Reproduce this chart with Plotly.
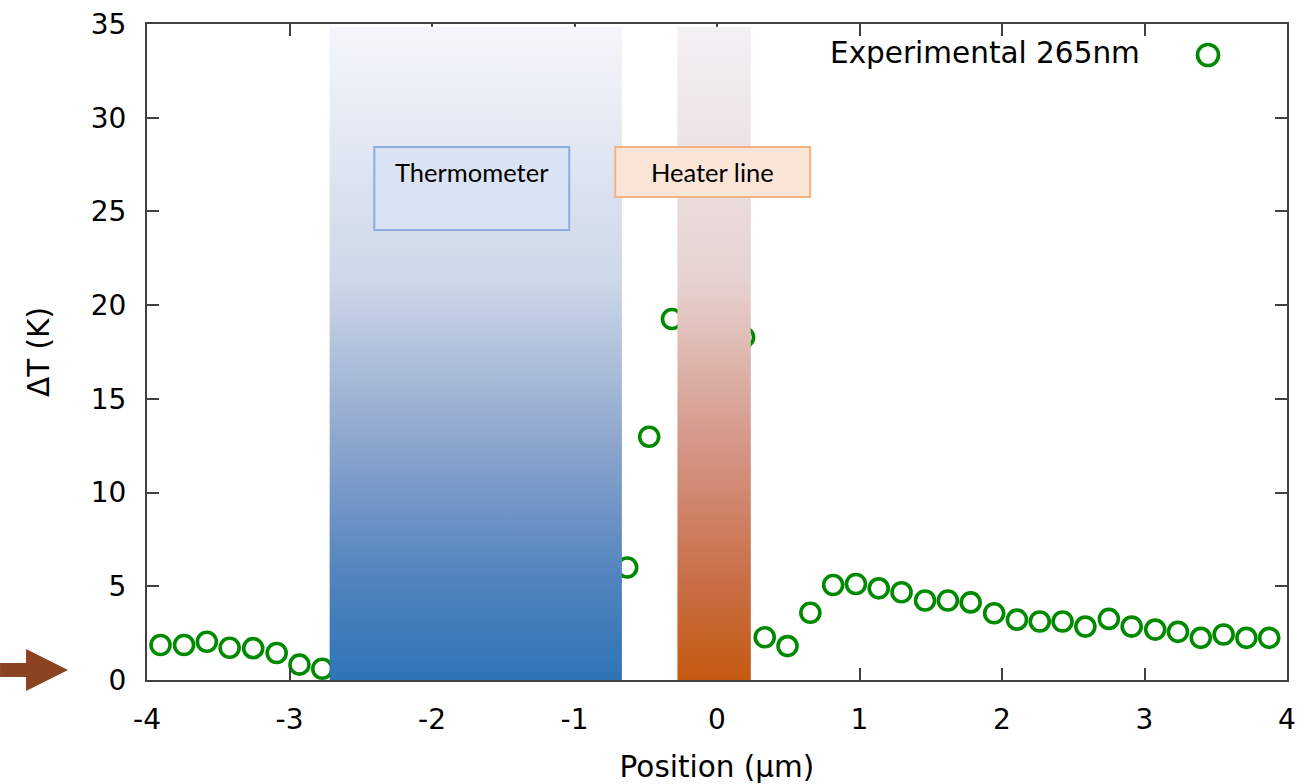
import base64
import plotly.graph_objects as go

# ---- data ----
position_um = [-3.905, -3.74, -3.58, -3.42, -3.255, -3.09, -2.93, -2.77,
               -0.63, -0.476, -0.316, 0.19,
               0.335, 0.495, 0.655, 0.815, 0.975, 1.135, 1.295, 1.46, 1.62, 1.78,
               1.945, 2.105, 2.265, 2.425, 2.585, 2.75, 2.91, 3.075, 3.235, 3.395,
               3.555, 3.715, 3.875]
delta_T_K = [1.87, 1.87, 2.04, 1.72, 1.70, 1.44, 0.82, 0.60,
             6.0, 12.98, 19.26, 18.29,
             2.28, 1.81, 3.59, 5.07, 5.12, 4.89, 4.68, 4.24, 4.24, 4.14,
             3.56, 3.22, 3.12, 3.12, 2.85, 3.26, 2.85, 2.69, 2.57, 2.25,
             2.43, 2.25, 2.25]
series_name = "Experimental 265nm"
thermometer_span = [-2.72, -0.667]
heater_span = [-0.279, 0.238]
x_ticks = [-4, -3, -2, -1, 0, 1, 2, 3, 4]
x_tick_labels = ["-4", "-3", "-2", "-1", "0", "1", "2", "3", "4"]
y_ticks = [0, 5, 10, 15, 20, 25, 30, 35]
y_tick_labels = ["0", "5", "10", "15", "20", "25", "30", "35"]

W, H = 1316, 784
ML, MR, MT, MB = 147, 29, 24, 104
PW, PH = W - ML - MR, H - MT - MB
GREEN = "#008a00"
FONT = "DejaVu Sans"


def px_to_paper(px, py):
    return (px - ML) / PW, (H - MB - py) / PH


def grad_svg(stops):
    st = "".join(f'<stop offset="{o}" stop-color="{c}"/>' for o, c in stops)
    svg = ('<svg xmlns="http://www.w3.org/2000/svg" width="100" height="100" '
           'viewBox="0 0 100 100" preserveAspectRatio="none"><defs>'
           '<linearGradient id="g" x1="0" y1="0" x2="0" y2="1">' + st +
           '</linearGradient></defs><rect width="100" height="100" fill="url(#g)"/></svg>')
    return "data:image/svg+xml;base64," + base64.b64encode(svg.encode()).decode()


fig = go.Figure()
fig.add_trace(go.Scatter(
    x=position_um, y=delta_T_K, mode="markers", name=series_name,
    marker=dict(symbol="circle-open", size=19, color=GREEN,
                line=dict(width=3.6, color=GREEN)),
    showlegend=False, cliponaxis=False))

band_top = 34.86
therm_stops = [(0, "#f4f6fb"), (0.39, "#cdd7e8"), (0.64, "#8ca5cd"),
               (0.85, "#5082be"), (1, "#2e75b6")]
heater_stops = [(0, "#f3f0f4"), (0.39, "#e6d2d0"), (0.64, "#d59687"),
                (0.85, "#c86e46"), (1, "#c55a11")]
images = [
    dict(source=grad_svg(therm_stops), xref="x", yref="y",
         x=thermometer_span[0], y=band_top,
         sizex=thermometer_span[1] - thermometer_span[0], sizey=band_top,
         xanchor="left", yanchor="top", sizing="stretch", layer="above"),
    dict(source=grad_svg(heater_stops), xref="x", yref="y",
         x=heater_span[0], y=band_top,
         sizex=heater_span[1] - heater_span[0], sizey=band_top,
         xanchor="left", yanchor="top", sizing="stretch", layer="above"),
]

shapes = [
    dict(type="rect", xref="x", yref="y", x0=-2.405, x1=-1.037, y0=24.01, y1=28.44,
         fillcolor="#dae3f3", line=dict(color="#8faadc", width=2), layer="above"),
    dict(type="rect", xref="x", yref="y", x0=-0.714, x1=0.654, y0=25.77, y1=28.44,
         fillcolor="#fbe5d6", line=dict(color="#f4b183", width=2), layer="above"),
]

# arrow at the left of the zero line
arrow_px = [(0, 663), (26, 663), (26, 649), (68, 670), (26, 691), (26, 677), (0, 677)]
pts = [px_to_paper(*p) for p in arrow_px]
path = "M " + " L ".join(f"{x:.4f},{y:.4f}" for x, y in pts) + " Z"
shapes.append(dict(type="path", xref="paper", yref="paper", path=path,
                   fillcolor="#8b4220", line=dict(width=0), layer="above"))

# legend marker (symbol to the right of the label, as in the reference)
lx, ly = px_to_paper(1208, 55)
shapes.append(dict(type="circle", xref="paper", yref="paper",
                   xsizemode="pixel", ysizemode="pixel", xanchor=lx, yanchor=ly,
                   x0=-10.5, x1=10.5, y0=-10.5, y1=10.5,
                   line=dict(color=GREEN, width=3.6), layer="above"))

tx, ty = px_to_paper(1142, 53)
annotations = [
    dict(text=series_name, xref="paper", yref="paper", x=tx, y=ty,
         xanchor="right", yanchor="middle", showarrow=False,
         font=dict(family=FONT, size=29.5, color="black")),
    dict(text="Thermometer", xref="x", yref="y", x=-1.72, y=27.1,
         xanchor="center", yanchor="middle", showarrow=False,
         font=dict(family="Lato", size=25.5, color="black")),
    dict(text="Heater line", xref="x", yref="y", x=-0.03, y=27.1,
         xanchor="center", yanchor="middle", showarrow=False,
         font=dict(family="Lato", size=25.5, color="black")),
]

axis_common = dict(showline=True, linecolor="#404040", linewidth=2, mirror="allticks",
                   ticks="inside", ticklen=12, tickwidth=1.5, tickcolor="#404040",
                   showgrid=False, zeroline=False, automargin=False,
                   tickfont=dict(family=FONT, size=28, color="black"))

fig.update_layout(
    width=W, height=H,
    margin=dict(l=ML, r=MR, t=MT, b=MB),
    paper_bgcolor="white", plot_bgcolor="white",
    xaxis=dict(range=[-4, 4], tickvals=x_ticks, ticktext=x_tick_labels,
               ticklabelstandoff=13,
               title=dict(text="Position (µm)", font=dict(family=FONT, size=29.5, color="black"),
                          standoff=26),
               **axis_common),
    yaxis=dict(range=[0, 35], tickvals=y_ticks, ticktext=y_tick_labels,
               ticklabelstandoff=13,
               title=dict(text="ΔT (K)", font=dict(family=FONT, size=29.5, color="black"),
                          standoff=32),
               **axis_common),
    images=images, shapes=shapes, annotations=annotations,
    showlegend=False,
)

fig.write_html("out.html")
